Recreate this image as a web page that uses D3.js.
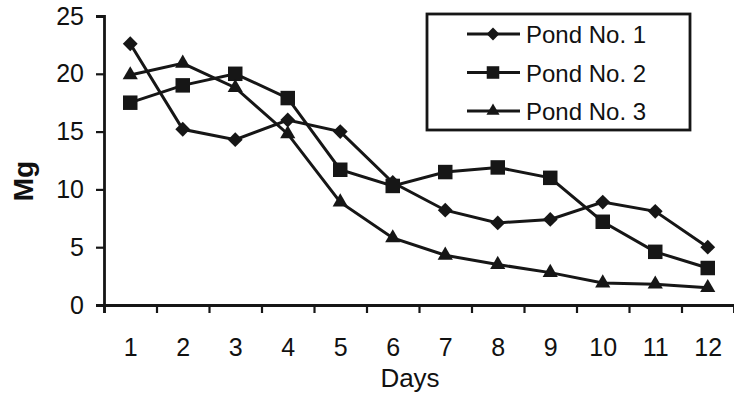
<!DOCTYPE html>
<html>
<head>
<meta charset="utf-8">
<script src="https://cdn.jsdelivr.net/npm/d3@7"></script>
<style>
  body { margin: 0; background: #fff; }
  text { font-family: "Liberation Sans", Arial, sans-serif; fill: #111; }
</style>
</head>
<body>
<div id="chart"></div>
<script>
// values
var days = [1, 2, 3, 4, 5, 6, 7, 8, 9, 10, 11, 12];
var pond1 = [22.6, 15.2, 14.3, 16.0, 15.0, 10.6, 8.2, 7.1, 7.4, 8.9, 8.1, 5.0];
var pond2 = [17.5, 19.0, 20.0, 17.9, 11.7, 10.3, 11.5, 11.9, 11.0, 7.2, 4.6, 3.2];
var pond3 = [19.9, 20.9, 18.8, 14.8, 8.9, 5.8, 4.3, 3.5, 2.8, 1.9, 1.8, 1.5];
var seriesNames = ["Pond No. 1", "Pond No. 2", "Pond No. 3"];
var yTicks = [0, 5, 10, 15, 20, 25];

var width = 734, height = 393;
var margin = {top: 16, right: 0, bottom: 88, left: 104};

var svg = d3.select("#chart").append("svg")
    .attr("width", width)
    .attr("height", height);

var x = d3.scaleLinear()
    .domain([0.5, 12.5])
    .range([margin.left, width - margin.right]);

var y = d3.scaleLinear()
    .domain([0, 25])
    .range([height - margin.bottom, margin.top]);

var ink = "#161616";
var font = "'Liberation Sans', Arial, sans-serif";

// y axis
var yAxis = svg.append("g")
    .attr("transform", "translate(" + margin.left + ",0)")
    .call(d3.axisLeft(y).tickValues(yTicks).tickSize(8).tickPadding(12));
yAxis.select(".domain").attr("stroke", ink).attr("stroke-width", 2.8);
yAxis.selectAll(".tick line").attr("stroke", ink).attr("stroke-width", 2.2);
yAxis.selectAll(".tick text").attr("font-size", 25).attr("fill", ink)
    .style("font-family", font);

// x axis: ticks on the category boundaries
var bounds = d3.range(0.5, 13, 1);
var xAxis = svg.append("g")
    .attr("transform", "translate(0," + y(0) + ")")
    .call(d3.axisBottom(x).tickValues(bounds).tickSize(8).tickFormat(""));
xAxis.select(".domain").attr("stroke", ink).attr("stroke-width", 2.8);
xAxis.selectAll(".tick line").attr("stroke", ink).attr("stroke-width", 2.2);

// day labels
var xLabels = svg.append("g")
    .attr("transform", "translate(0," + y(0) + ")")
    .call(d3.axisBottom(x).tickValues(days).tickSize(0).tickPadding(33));
xLabels.select(".domain").remove();
xLabels.selectAll(".tick text").attr("font-size", 25).attr("fill", ink)
    .style("font-family", font);

// axis titles
svg.append("text")
    .attr("x", 410)
    .attr("y", 387)
    .attr("text-anchor", "middle")
    .attr("font-size", 26)
    .text("Days");

svg.append("text")
    .attr("transform", "translate(33,181) rotate(-90)")
    .attr("text-anchor", "middle")
    .attr("font-size", 28)
    .attr("font-weight", "bold")
    .text("Mg");

// series
var series = [
    {name: seriesNames[0], values: pond1, symbol: d3.symbolSquare, size: 110, rotate: 45},
    {name: seriesNames[1], values: pond2, symbol: d3.symbolSquare, size: 210, rotate: 0},
    {name: seriesNames[2], values: pond3, symbol: d3.symbolTriangle, size: 100, rotate: 0}
];

var line = d3.line()
    .x(function(d, i) { return x(days[i]); })
    .y(function(d) { return y(d); });

series.forEach(function(s) {
    svg.append("path")
        .datum(s.values)
        .attr("fill", "none")
        .attr("stroke", ink)
        .attr("stroke-width", 3)
        .attr("d", line);

    svg.append("g")
        .selectAll("path")
        .data(s.values)
        .enter()
        .append("path")
        .attr("transform", function(d, i) {
            return "translate(" + x(days[i]) + "," + y(d) + ") rotate(" + s.rotate + ")";
        })
        .attr("d", d3.symbol().type(s.symbol).size(s.size))
        .attr("fill", ink);
});

// legend
var legend = svg.append("g");
legend.append("rect")
    .attr("x", 427)
    .attr("y", 14)
    .attr("width", 263)
    .attr("height", 116)
    .attr("fill", "#fff")
    .attr("stroke", ink)
    .attr("stroke-width", 2.8);

var rows = legend.selectAll("g.row")
    .data(series)
    .enter()
    .append("g")
    .attr("class", "row")
    .attr("transform", function(d, i) { return "translate(0," + (34 + i * 38.5) + ")"; });

rows.append("line")
    .attr("x1", 467).attr("x2", 520)
    .attr("y1", 0).attr("y2", 0)
    .attr("stroke", ink)
    .attr("stroke-width", 2.8);

rows.append("path")
    .attr("transform", function(d) { return "translate(493,0) rotate(" + d.rotate + ")"; })
    .attr("d", function(d) { return d3.symbol().type(d.symbol).size(d.size * 0.75)(); })
    .attr("fill", ink);

rows.append("text")
    .attr("x", 526)
    .attr("y", 9)
    .attr("font-size", 24)
    .text(function(d) { return d.name; });
</script>
</body>
</html>
